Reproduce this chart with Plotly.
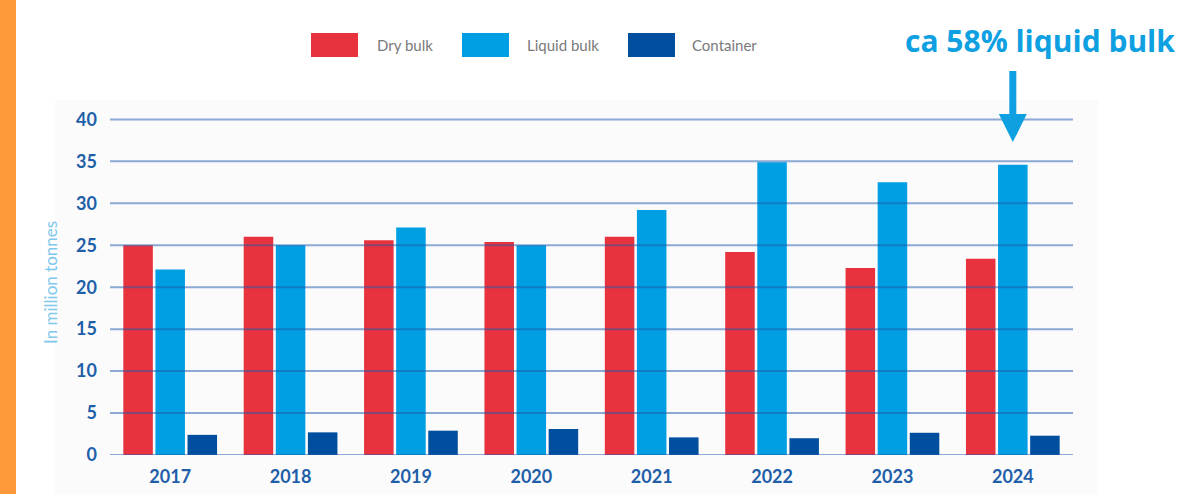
import plotly.graph_objects as go

# ── data ────────────────────────────────────────────────────────────────
years = ["2017", "2018", "2019", "2020", "2021", "2022", "2023", "2024"]
dry_bulk = [25.0, 26.0, 25.6, 25.4, 26.0, 24.2, 22.3, 23.4]
liquid_bulk = [22.1, 25.0, 27.1, 25.0, 29.2, 34.9, 32.5, 34.6]
container = [2.4, 2.7, 2.9, 3.1, 2.1, 2.0, 2.65, 2.3]
y_ticks = [0, 5, 10, 15, 20, 25, 30, 35, 40]

series = [
    ("Dry bulk", dry_bulk, "#e8333f"),
    ("Liquid bulk", liquid_bulk, "#009fe3"),
    ("Container", container, "#004f9f"),
]

# plot area in pixels (1180 x 494 page)
L, R, T, B = 110, 107, 111, 39
PW, PH = 1180 - L - R, 494 - T - B


def px(x):
    return (x - L) / PW


def py(y):
    return (494 - B - y) / PH


fig = go.Figure()
for name, vals, col in series:
    fig.add_trace(go.Bar(
        x=years, y=vals, name=name,
        marker=dict(color=col, line=dict(width=0)),
        showlegend=False, hoverinfo="x+y+name",
    ))

shapes = []
# orange stripe + light panel
shapes.append(dict(type="rect", xref="paper", yref="paper",
                   x0=px(0), x1=px(16), y0=py(494), y1=py(0),
                   fillcolor="#ff9a3c", line=dict(width=0), layer="below"))
shapes.append(dict(type="rect", xref="paper", yref="paper",
                   x0=px(55), x1=px(1098), y0=py(494), y1=py(100),
                   fillcolor="#fbfbfc", line=dict(width=0), layer="below"))

# gridlines drawn over the bars, semi-transparent
for v in y_ticks:
    shapes.append(dict(type="line", xref="paper", yref="y",
                       x0=0, x1=(1073 - L) / PW, y0=v, y1=v,
                       line=dict(color="rgba(30,90,170,0.5)", width=2),
                       layer="above"))

# custom legend with wide swatches
legend_pos = [(311, 375), (462, 525), (628, 690)]
annotations = []
for (name, _, col), (sx, tx) in zip(series, legend_pos):
    shapes.append(dict(type="rect", xref="paper", yref="paper",
                       x0=px(sx), x1=px(sx + 47), y0=py(57), y1=py(33),
                       fillcolor=col, line=dict(width=0)))
    annotations.append(dict(xref="paper", yref="paper", x=px(tx), y=py(45),
                            text=name, showarrow=False, xanchor="left",
                            yanchor="middle",
                            font=dict(family="Lato", size=15, color="#7a7a7a")))

# headline + arrow pointing at the last liquid-bulk bar
annotations.append(dict(xref="paper", yref="paper", x=px(1177), y=py(40),
                        text="<b>ca 58% liquid bulk</b>", showarrow=False,
                        xanchor="right", yanchor="middle",
                        font=dict(family="Open Sans", size=30, color="#0fa0e2")))
annotations.append(dict(x=len(years) - 1, y=37.3, xref="x", yref="y",
                        text=" ", showarrow=True, arrowhead=2, arrowsize=0.8,
                        arrowwidth=7, arrowcolor="#0fa0e2",
                        ax=0, ay=-80))

# y-axis title
annotations.append(dict(xref="paper", yref="paper", x=px(50), y=py(283),
                        xanchor="center", yanchor="middle",
                        text="In million tonnes", showarrow=False, textangle=-90,
                        font=dict(family="Lato", size=17, color="#7fc8ec")))

fig.update_layout(
    width=1180, height=494,
    margin=dict(l=L, r=R, t=T, b=B),
    paper_bgcolor="white", plot_bgcolor="rgba(0,0,0,0)",
    barmode="group", bargap=0.2, bargroupgap=0.08,
    shapes=shapes, annotations=annotations,
    font=dict(family="Lato"),
)
fig.update_xaxes(
    type="category", range=[-0.5, 7.5], showgrid=False, showline=False,
    zeroline=False, ticks="", ticklabelstandoff=9, automargin=False,
    tickfont=dict(family="Lato", size=18, color="#1f5fa8", weight="bold"),
)
fig.update_yaxes(
    range=[0, 41], tickvals=y_ticks, showgrid=False, zeroline=False,
    showline=False, ticks="", ticklabelstandoff=12, automargin=False,
    tickfont=dict(family="Lato", size=18, color="#1f5fa8", weight="bold"),
)

fig.write_html("out.html", config={"displayModeBar": False},
               post_script="document.body.style.margin='0';")
